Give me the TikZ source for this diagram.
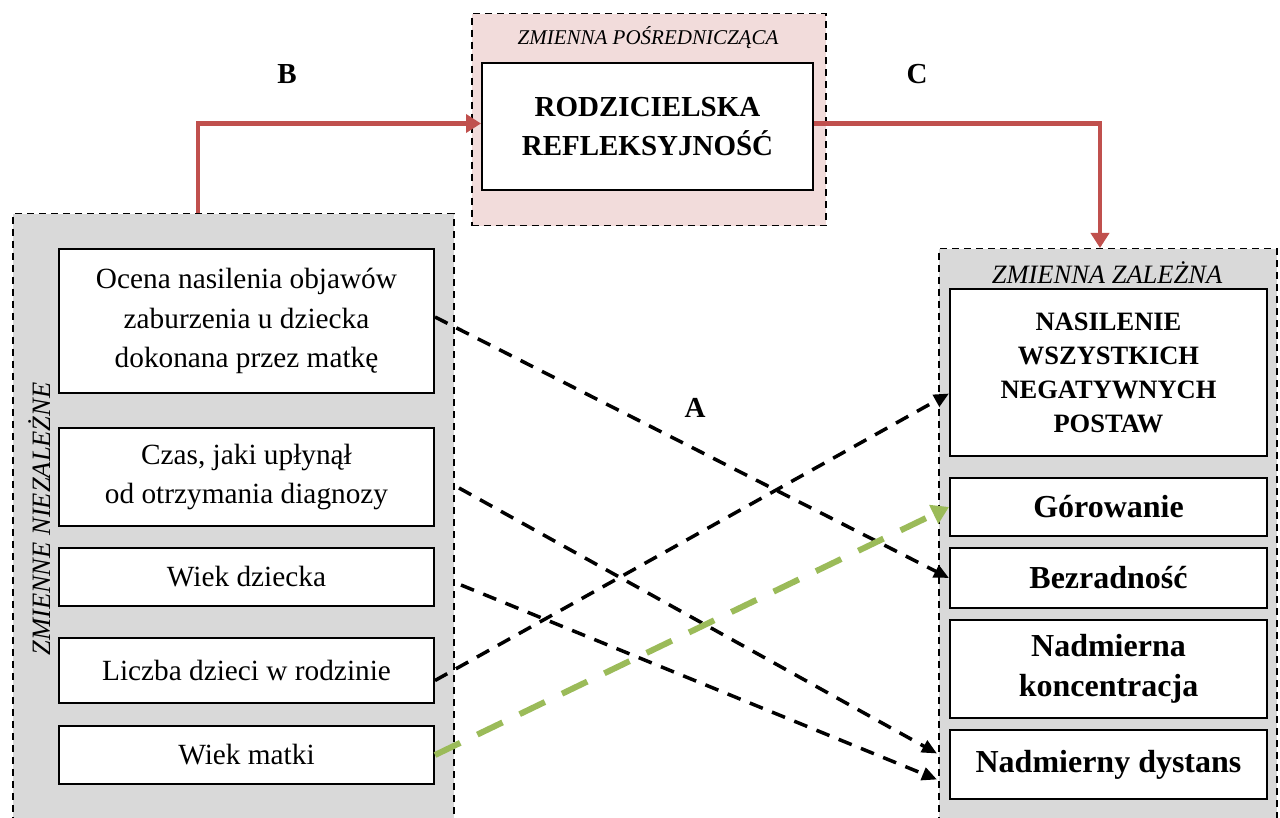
\documentclass[tikz,border=0pt]{standalone}
\usepackage{fontspec}
\setmainfont{Liberation Serif}
\usetikzlibrary{arrows.meta,calc}
\definecolor{panelgray}{HTML}{D9D9D9}
\definecolor{panelpink}{HTML}{F2DCDB}
\definecolor{linkred}{HTML}{C0504D}
\definecolor{linkgreen}{HTML}{9BBB59}

\begin{document}
\begin{tikzpicture}[x=1pt,y=1pt,
  panel/.style={draw=black, line width=1.5pt, dash pattern=on 7pt off 5pt,
    anchor=north west, inner sep=0pt},
  varbox/.style={draw=black, fill=white, line width=2pt, anchor=north west,
    inner sep=0pt, align=center},
  leftvar/.style={varbox, minimum width=375pt, font=\fontsize{29.3}{39.5}\selectfont},
  rightvar/.style={varbox, minimum width=317pt, font=\bfseries\fontsize{32}{40}\selectfont},
  paneltitle/.style={font=\itshape\fontsize{26.5}{28}\selectfont, inner sep=0pt},
  pathlabel/.style={font=\bfseries\fontsize{29}{30}\selectfont, inner sep=0pt},
  effect/.style={draw=black, line width=3.5pt, dash pattern=on 14pt off 10pt,
    -{Triangle[length=15pt,width=13pt]}},
  effectgreen/.style={draw=linkgreen, line width=6pt, dash pattern=on 28pt off 19pt,
    -{Triangle[length=17pt,width=20pt]}},
  link/.style={draw=linkred, line width=4.5pt, -{Triangle[length=15pt,width=18pt]}}
]
\useasboundingbox (0,0) rectangle (1280,-818);
\clip (0,0) rectangle (1280,-818);

% panels
\node[panel, fill=panelpink, minimum width=354pt, minimum height=212pt] (medpanel) at (471,-13) {};
\node[panel, fill=panelgray, minimum width=441pt, minimum height=627pt] (indpanel) at (12,-213) {};
\node[panel, fill=panelgray, minimum width=338pt, minimum height=592pt] (deppanel) at (938,-248) {};

% panel titles
\node[paneltitle, font=\itshape\fontsize{21}{24}\selectfont] (medtitle) at (648,-38) {ZMIENNA POŚREDNICZĄCA};
\node[paneltitle] (deptitle) at (1107,-273) {ZMIENNA ZALEŻNA};
\node[paneltitle, rotate=90] (indtitle) at (40,-519) {ZMIENNE NIEZALEŻNE};

% mediator
\node[varbox, minimum width=331pt, minimum height=127pt,
  font=\bfseries\fontsize{29}{39}\selectfont] (mid) at (481,-62)
  {RODZICIELSKA\\REFLEKSYJNOŚĆ};

% independent variables
\node[leftvar, minimum height=144pt] (b1) at (58,-248)
  {Ocena nasilenia objawów\\zaburzenia u dziecka\\dokonana przez matkę};
\node[leftvar, minimum height=98pt] (b2) at (58,-427)
  {Czas, jaki upłynął\\od otrzymania diagnozy};
\node[leftvar, minimum height=58pt] (b3) at (58,-547) {Wiek dziecka};
\node[leftvar, minimum height=65pt] (b4) at (58,-637) {Liczba dzieci w rodzinie};
\node[leftvar, minimum height=58pt] (b5) at (58,-725) {Wiek matki};

% dependent variables
\node[rightvar, minimum height=167pt, font=\bfseries\fontsize{26.5}{34}\selectfont] (r1) at (949,-288)
  {NASILENIE\\WSZYSTKICH\\NEGATYWNYCH\\POSTAW};
\node[rightvar, minimum height=58pt] (r2) at (949,-477) {Górowanie};
\node[rightvar, minimum height=60pt] (r3) at (949,-547) {Bezradność};
\node[rightvar, minimum height=98pt] (r4) at (949,-619) {Nadmierna\\koncentracja};
\node[rightvar, minimum height=69pt] (r5) at (949,-729) {Nadmierny dystans};

% path labels
\node[pathlabel] (labA) at (695,-408) {A};
\node[pathlabel] (labB) at (287,-74) {B};
\node[pathlabel] (labC) at (917,-74) {C};

% mediation paths
\coordinate (bfoot) at (198,-213);
\coordinate (chead) at (1100,-248);
\draw[link] (bfoot) |- ($(mid.west)+(0,3)$);
\draw[link] ($(mid.east)+(0,3)$) -| (chead);

% direct effects
\draw[effect] ($(b1.east)+(0,4)$) -- (r3.west);
\draw[effect] ($(b2.east)+(24,-11)$) -- ($(r5.west)+(-12,11)$);
\draw[effect] ($(b3.east)+(26,-8)$) -- ($(r5.west)+(-12,-15)$);
\draw[effect] ($(b4.east)+(0,-10)$) -- ($(r1.west)+(0,-21)$);
\draw[effectgreen] (b5.east) -- (r2.west);
\end{tikzpicture}
\end{document}
